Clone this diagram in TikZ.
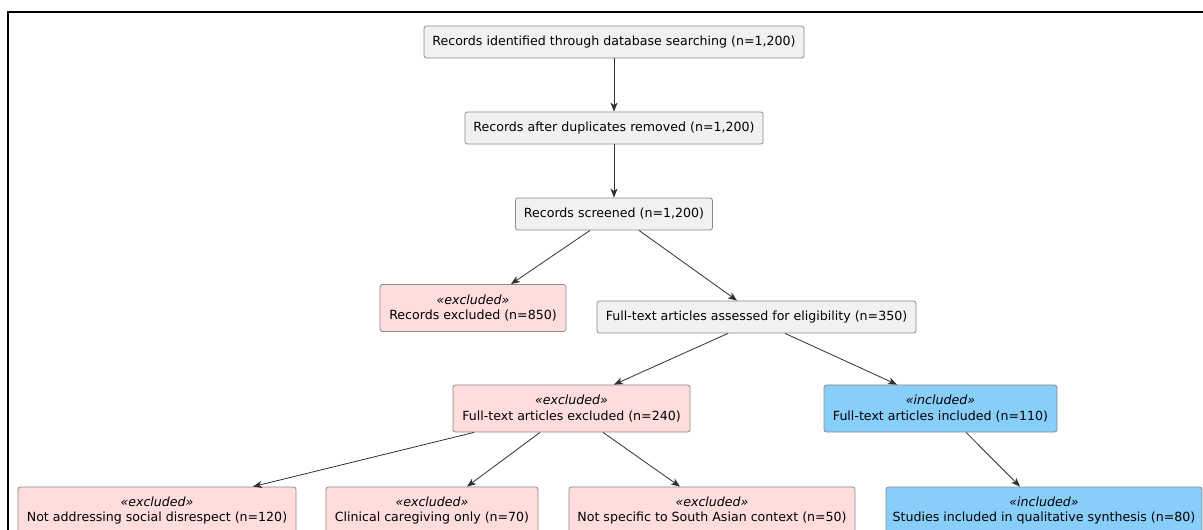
\documentclass[tikz,border=0pt]{standalone}
\usepackage{fontspec}
\setmainfont{DejaVu Sans}
\usetikzlibrary{arrows.meta}
\definecolor{boxgrey}{HTML}{F1F1F1}
\definecolor{boxline}{HTML}{8A8A8A}
\definecolor{expink}{HTML}{FFDDDD}
\definecolor{inblue}{HTML}{87CEFA}
\definecolor{arrowc}{HTML}{303030}
\tikzset{
  base/.style={draw=boxline, line width=0.8bp, rounded corners=2.5bp, inner sep=0pt,
    font=\fontsize{12.6bp}{15.5bp}\selectfont, align=center, text=black},
  stage/.style={base, fill=boxgrey, minimum height=32bp},
  excl/.style={base, fill=expink, minimum height=47bp},
  incl/.style={base, fill=inblue, minimum height=47bp},
  flow/.style={draw=arrowc, line width=0.8bp, -{Stealth[length=9bp,width=7bp,inset=2.5bp]}},
}
\newcommand{\stereo}[1]{\textit{«#1»}}
\begin{document}
\begin{tikzpicture}[x=1bp,y=-1bp]
\useasboundingbox (0,0) rectangle (1203,530);
\clip (0,0) rectangle (1203,530);
\fill[white] (0,0) rectangle (1203,530);
\draw[line width=2bp, black] (8,560) -- (8,12) -- (1230,12);

\node[stage, minimum width=380bp] (n1) at (614,42) {Records identified through database searching (n=1,200)};
\node[stage, minimum width=298bp] (n2) at (614,128) {Records after duplicates removed (n=1,200)};
\node[stage, minimum width=197bp] (n3) at (614,214) {Records screened (n=1,200)};
\node[excl, minimum width=186bp] (rex) at (473,308) {\stereo{excluded}\\Records excluded (n=850)};
\node[stage, minimum width=319bp] (fta) at (756.5,317) {Full-text articles assessed for eligibility (n=350)};
\node[excl, minimum width=237bp] (ftx) at (571.5,408.5) {\stereo{excluded}\\Full-text articles excluded (n=240)};
\node[incl, minimum width=233bp] (fti) at (940.5,408.5) {\stereo{included}\\Full-text articles included (n=110)};
\node[excl, minimum width=278bp] (b1) at (157,510.5) {\stereo{excluded}\\Not addressing social disrespect (n=120)};
\node[excl, minimum width=212bp] (b2) at (432,510.5) {\stereo{excluded}\\Clinical caregiving only (n=70)};
\node[excl, minimum width=286bp] (b3) at (712,510.5) {\stereo{excluded}\\Not specific to South Asian context (n=50)};
\node[incl, minimum width=316bp] (b4) at (1044,510.5) {\stereo{included}\\Studies included in qualitative synthesis (n=80)};

\draw[flow] (n1.south) -- (n2.north);
\draw[flow] (n2.south) -- (n3.north);
\draw[flow] ([xshift=-24bp]n3.south) -- ([xshift=38bp]rex.north);
\draw[flow] ([xshift=25bp]n3.south) -- ([xshift=-19.5bp]fta.north);
\draw[flow] ([xshift=-28.5bp]fta.south) -- ([xshift=42.5bp]ftx.north);
\draw[flow] ([xshift=28.5bp]fta.south) -- ([xshift=-43.5bp]fti.north);
\draw[flow] ([xshift=-97.5bp]ftx.south) -- ([xshift=96bp]b1.north);
\draw[flow] ([xshift=-31.5bp]ftx.south) -- ([xshift=35bp]b2.north);
\draw[flow] ([xshift=31.5bp]ftx.south) -- ([xshift=-32bp]b3.north);
\draw[flow] ([xshift=25.5bp]fti.south) -- ([xshift=-24bp]b4.north);
\end{tikzpicture}
\end{document}
